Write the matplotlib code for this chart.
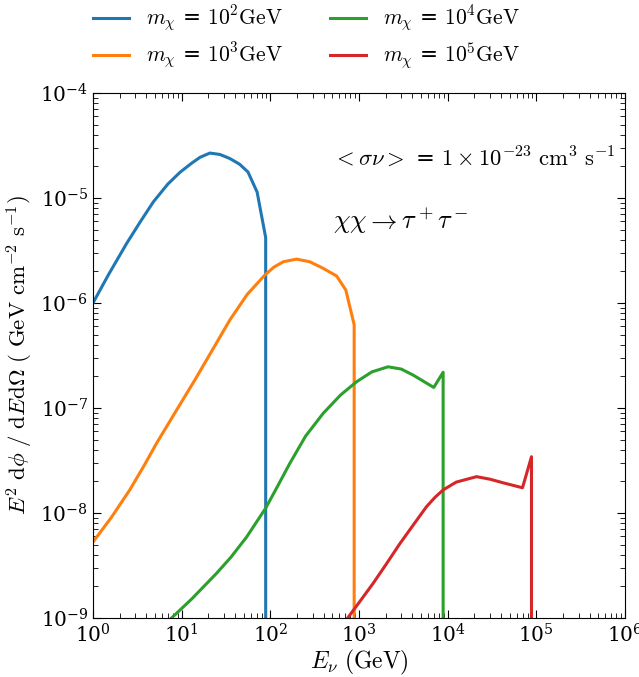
import numpy as np
import matplotlib
matplotlib.use('Agg')
import matplotlib.pyplot as plt

plt.rcParams['mathtext.fontset'] = 'cm'
plt.rcParams['font.family'] = 'serif'
plt.rcParams['font.serif'] = ['DejaVu Serif']

# neutrino spectra for chi chi -> tau+ tau-, flux drops to zero above the DM mass
E_100 = [1, 1.5, 2.4, 3.4, 4.8, 7, 9.6, 13, 16.1, 20.8, 27, 34.9, 45, 56, 71, 88.7, 88.7]
F_100 = [1.0e-6, 1.87e-6, 3.7e-6, 5.9e-6, 9.2e-6, 1.36e-5, 1.76e-5, 2.15e-5, 2.44e-5,
         2.68e-5, 2.6e-5, 2.38e-5, 2.1e-5, 1.77e-5, 1.14e-5, 4.2e-6, 0]

E_1000 = [1, 1.6, 2.6, 3.8, 5.2, 8.8, 11, 14.1, 22, 35, 55, 87, 110, 140, 198, 279, 395,
          559, 711, 883, 883]
F_1000 = [5.3e-9, 9.0e-9, 1.66e-8, 2.86e-8, 4.6e-8, 9.6e-8, 1.31e-7, 1.85e-7, 3.52e-7,
          6.9e-7, 1.21e-6, 1.85e-6, 2.2e-6, 2.47e-6, 2.62e-6, 2.47e-6, 2.14e-6, 1.81e-6,
          1.33e-6, 6.2e-7, 0]

E_1e4 = [6, 13, 24.8, 36, 54, 88.5, 120, 166, 250, 395, 620, 940, 1400, 2130, 3000,
         4080, 6980, 8900, 8900]
F_1e4 = [8.2e-10, 1.52e-9, 2.67e-9, 3.8e-9, 5.9e-9, 1.11e-8, 1.78e-8, 2.97e-8, 5.4e-8,
         8.9e-8, 1.33e-7, 1.78e-7, 2.21e-7, 2.47e-7, 2.35e-7, 2.06e-7, 1.57e-7, 2.19e-7, 0]

E_1e5 = [600, 1000, 1445, 2000, 2890, 4100, 5780, 7200, 8900, 12500, 21200, 30000, 42300,
         69900, 88300, 88300]
F_1e5 = [7.8e-10, 1.4e-9, 2.14e-9, 3.2e-9, 5.1e-9, 7.7e-9, 1.15e-8, 1.41e-8, 1.66e-8,
         1.97e-8, 2.22e-8, 2.1e-8, 1.94e-8, 1.74e-8, 3.44e-8, 0]

labels = [r'$m_\chi$ = $10^2\mathrm{GeV}$', r'$m_\chi$ = $10^3\mathrm{GeV}$',
          r'$m_\chi$ = $10^4\mathrm{GeV}$', r'$m_\chi$ = $10^5\mathrm{GeV}$']

fig = plt.figure(figsize=(6.39, 6.77), dpi=100)
ax = fig.add_axes([0.1455, 0.0871, 0.8325, 0.7755])

for E, F, lab in zip([E_100, E_1000, E_1e4, E_1e5], [F_100, F_1000, F_1e4, F_1e5], labels):
    ax.plot(E, F, lw=2.2, label=lab)

ax.set_xscale('log')
ax.set_yscale('log')
ax.set_xlim(1, 1e6)
ax.set_ylim(1e-9, 1e-4)

ax.tick_params(which='both', direction='in', top=True, right=True, labelsize=14.5)
ax.tick_params(which='major', length=6)
ax.tick_params(which='minor', length=3.5)

ax.set_xlabel(r'$E_\nu\ (\mathrm{GeV})$', fontsize=17, labelpad=1)
ax.set_ylabel(r'$E^2\ \mathrm{d}\phi\ /\ \mathrm{d}E\mathrm{d}\Omega\ (\ \mathrm{GeV\ cm^{-2}\ s^{-1}})$',
              fontsize=16.5, labelpad=4)

ax.text(0.451, 0.876, r'$<\sigma\nu>$ = $1\times10^{-23}\ \mathrm{cm}^3\ \mathrm{s}^{-1}$',
        transform=ax.transAxes, fontsize=16.3, va='center')
ax.text(0.451, 0.757, r'$\chi\chi\rightarrow\tau^+\tau^-$',
        transform=ax.transAxes, fontsize=19, va='center')

fig.legend(loc='upper center', bbox_to_anchor=(0.480, 1.023), ncol=2, frameon=False,
           fontsize=15.5, handlelength=1.65, handletextpad=0.8, columnspacing=2.2,
           labelspacing=0.3)

fig.savefig('out.png', dpi=100)
